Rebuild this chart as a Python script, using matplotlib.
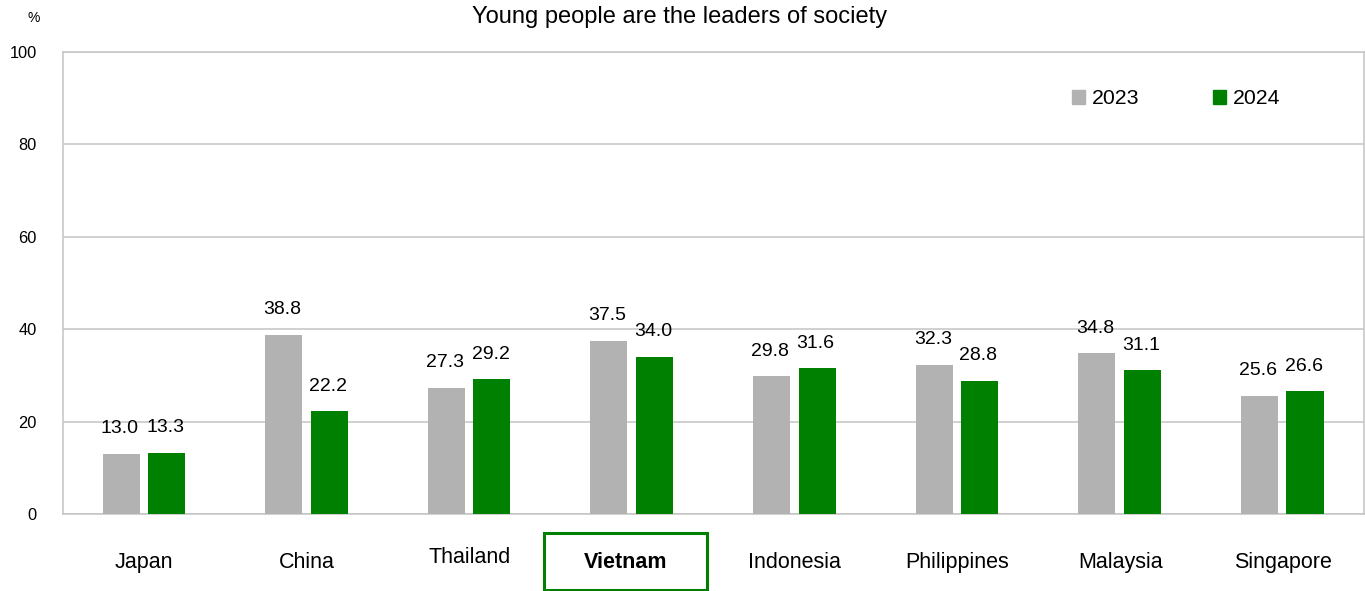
import numpy as np
import matplotlib
matplotlib.use("Agg")
import matplotlib.pyplot as plt
from matplotlib.patches import Patch, Rectangle
from matplotlib.transforms import blended_transform_factory

plt.rcParams["font.family"] = ["Liberation Sans", "DejaVu Sans"]

countries = ["Japan", "China", "Thailand", "Vietnam", "Indonesia", "Philippines", "Malaysia", "Singapore"]
v2023 = [13.0, 38.8, 27.3, 37.5, 29.8, 32.3, 34.8, 25.6]
v2024 = [13.3, 22.2, 29.2, 34.0, 31.6, 28.8, 31.1, 26.6]
yticks = [0, 20, 40, 60, 80, 100]

GRAY = "#b2b2b2"
GREEN = "#008000"
GRID = "#c4c4c4"

fig = plt.figure(figsize=(13.65, 5.91), dpi=100)
ax = fig.add_axes([63 / 1365, 77 / 591, 1301 / 1365, 462 / 591])

x = np.arange(len(countries))
w = 0.228
b1 = ax.bar(x - 0.143, v2023, w, color=GRAY, zorder=3)
b2 = ax.bar(x + 0.137, v2024, w, color=GREEN, zorder=3)

for bars, vals in ((b1, v2023), (b2, v2024)):
    for r, v in zip(bars, vals):
        ax.annotate(f"{v:.1f}", (r.get_x() + r.get_width() / 2, v), xytext=(-1, 18),
                    textcoords="offset points", ha="center", va="center", fontsize=14)

ax.set_xlim(-0.5, len(countries) - 0.5)
ax.set_ylim(0, 100)
ax.set_yticks(yticks)
ax.set_yticklabels([str(t) for t in yticks], fontsize=11.8)
ax.tick_params(axis="y", length=0, pad=19)
ax.set_xticks([])
ax.grid(axis="y", color=GRID, lw=1.1, zorder=0)
for s in ax.spines.values():
    s.set_color(GRID)
    s.set_linewidth(1.1)

# category labels under the axis
tr = blended_transform_factory(ax.transData, ax.transAxes)
for i, c in enumerate(countries):
    yy = -0.095 if c == "Thailand" else -0.104
    xx = i - 0.04 if c == "Vietnam" else i
    ax.text(xx, yy, c, transform=tr, ha="center", va="center", fontsize=15.5,
            fontweight="bold" if c == "Vietnam" else "normal")
vi = countries.index("Vietnam")
ax.add_patch(Rectangle((vi - 0.542, -0.1645), 1.0, 0.1235, transform=tr, fill=False,
                       edgecolor=GREEN, lw=2.2, clip_on=False))

handles = [Patch(color=GRAY, label="2023"), Patch(color=GREEN, label="2024")]
ax.legend(handles=handles, loc="center left", bbox_to_anchor=(1072 / 1365, 1 - 99 / 591),
          bbox_transform=fig.transFigure, ncol=2, frameon=False, fontsize=15.3,
          handlelength=0.62, handleheight=0.62, handletextpad=0.33, columnspacing=3.45,
          borderpad=0, borderaxespad=0)

fig.text(680 / 1365, 1 - 17 / 591, "Young people are the leaders of society",
         ha="center", va="center", fontsize=17)
fig.text(34 / 1365, 1 - 18 / 591, "%", ha="center", va="center", fontsize=10)

fig.savefig("out.png", dpi=100)
